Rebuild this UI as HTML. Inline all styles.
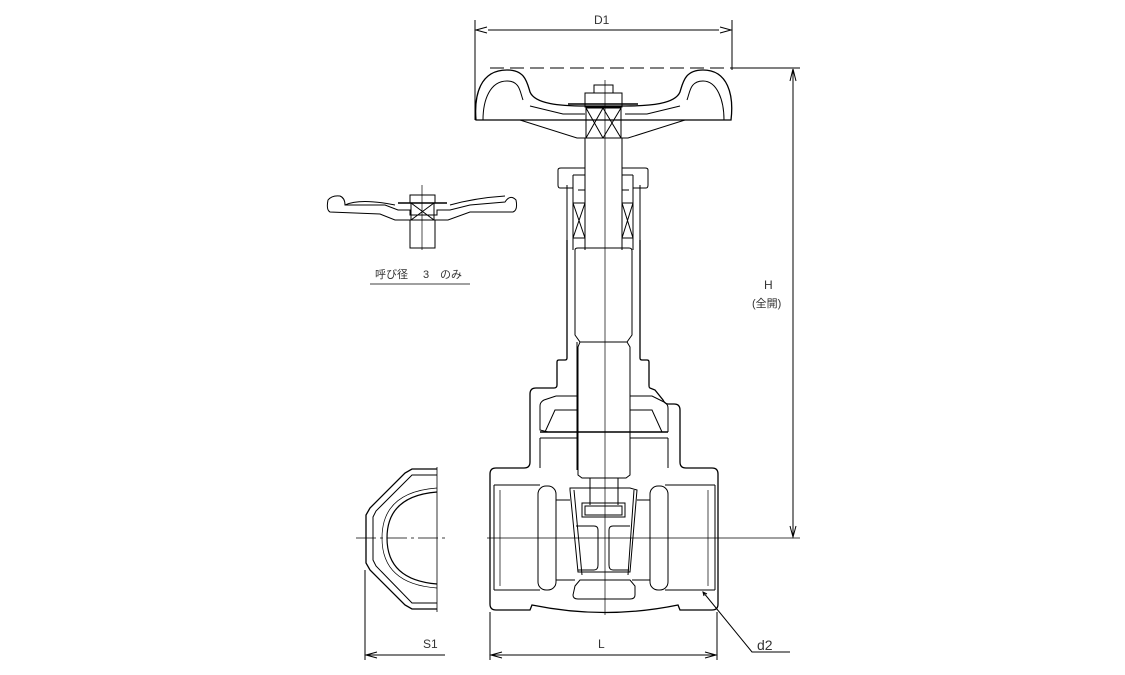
<!DOCTYPE html>
<html><head><meta charset="utf-8"><style>
html,body{margin:0;padding:0;background:#fff;}
svg{display:block}
text{font-family:"Liberation Sans","Noto Sans CJK JP",sans-serif;fill:#333}
</style></head><body>
<svg width="1125" height="675" viewBox="0 0 1125 675" xmlns="http://www.w3.org/2000/svg">
<defs>
<marker id="a" markerWidth="12" markerHeight="6" refX="12" refY="3" orient="auto" markerUnits="userSpaceOnUse"><path d="M0,0 L12,3 L0,6" fill="none" stroke="#000" stroke-width="1"/></marker>
</defs>
<g fill="none" stroke="#000" stroke-width="1">
<!-- D1 dim -->
<line x1="475" y1="20" x2="475" y2="120"/>
<line x1="732" y1="20" x2="732" y2="70"/>
<line x1="488" y1="30" x2="719" y2="30"/>
<path d="M487,27 L476,30 L487,33 M720,27 L731,30 L720,33"/>
<line x1="490" y1="68" x2="732" y2="68" stroke-dasharray="14,6"/>
<line x1="732" y1="68" x2="800" y2="68"/>
<!-- H dim -->
<line x1="793" y1="70" x2="793" y2="537"/>
<path d="M790,81 L793,69 L796,81 M790,526 L793,537 L796,526"/>
<!-- centerlines -->
<line x1="487" y1="538" x2="800" y2="538" stroke-width="0.8"/>
<line x1="356" y1="538" x2="445" y2="538" stroke-dasharray="20,4,3,4" stroke-width="0.8"/>
<line x1="605" y1="80" x2="605" y2="615" stroke-width="0.7"/>
<line x1="422" y1="185" x2="422" y2="250" stroke-width="0.7"/>
<!-- Handwheel -->
<path d="M476,120 C474,95 480,70 507,70 C525,70 527,82 530,92 C535,104 560,106 585,106 L625,106 C650,106 675,104 680,92 C683,82 685,70 703,70 C728,70 734,95 731,120 Z" stroke-width="1.3"/>
<path d="M483,120 C483,100 490,81 507,81 C520,81 520,92 523,100"/>
<path d="M724,120 C724,100 717,81 703,81 C690,81 690,92 687,100"/>
<path d="M520,120 L577,138 L628,138 L685,120"/>
<path d="M530,106 L563,114 L585,114 M625,114 L647,114 L680,106"/>
<rect x="586" y="108" width="35" height="30"/>
<path d="M586,108 L603,138 M603,108 L586,138 M603,108 L621,138 M621,108 L603,138"/>
<rect x="585" y="93" width="37" height="14"/>
<rect x="594" y="85" width="19" height="8"/>
<line x1="568" y1="104" x2="638" y2="104" stroke-width="1.5"/>
<!-- stem upper -->
<line x1="585" y1="138" x2="585" y2="250"/>
<line x1="622" y1="138" x2="622" y2="250"/>
<!-- gland nut -->
<path d="M573,188 L560,188 Q558,188 558,185 L558,170 Q558,168 561,168 L585,168"/>
<path d="M633,188 L646,188 Q648,188 648,185 L648,170 Q648,168 645,168 L622,168"/>
<path d="M573,175 L585,175 L585,190 L578,190 M633,175 L622,175 L622,190 L629,190"/>
<path d="M567,185 L567,240 M640,185 L640,240"/>
<path d="M573,175 L573,250 M633,175 L633,250"/>
<rect x="573" y="203" width="12" height="35"/><path d="M573,203 L585,238 M585,203 L573,238"/>
<rect x="622" y="203" width="11" height="35"/><path d="M622,203 L633,238 M633,203 L622,238"/>
<!-- bonnet -->
<path d="M567,240 L567,358 Q567,360 565,360 L559,360 Q557,360 557,362 L557,385 Q557,388 554,388 L536,388 Q530,388 530,394 L530,462 Q530,468 524,468 L496,468 Q490,468 490,474 L490,604 Q490,610 496,610 L530,610 L532,605 Q605,620 678,605 L680,610 L712,610 Q718,610 718,604 L718,474 Q718,468 712,468 L686,468 Q680,468 680,462 L680,410 Q680,404 674,404 L668,404 Q665,404 663,400 L655,390 L650,388 Q649,388 649,385 L649,362 Q649,360 647,360 L642,360 Q640,360 640,358 L640,240" stroke-width="1.3"/>
<path d="M575,250 Q575,248 578,248 L629,248 Q632,248 632,251 L632,335 L627,342 L580,342 L575,335 Z"/>
<path d="M580,342 L578,347 L578,475 L582,478 L626,478 L630,475 L630,347 L627,342"/>
<line x1="577" y1="342" x2="577" y2="470"/>
<!-- bonnet flange interior -->
<path d="M548,432 L540,430 L540,406 Q540,402 544,400 L556,396 M556,396 L578,396"/>
<path d="M545,432 L555,410 L578,410 M630,410 L652,410 L662,432"/>
<path d="M630,396 L652,396 L664,402 Q668,404 668,408 L668,432"/>
<line x1="540" y1="432" x2="668" y2="432" stroke-width="1.5"/>
<line x1="540" y1="438" x2="578" y2="438"/><line x1="630" y1="438" x2="668" y2="438"/>
<path d="M540,438 L540,468 M668,438 L668,468"/>
<!-- stem lower & wedge -->
<path d="M590,478 L590,505 M618,478 L618,505"/>
<rect x="582" y="503" width="43" height="14"/>
<rect x="585" y="506" width="37" height="9"/>
<path d="M570,488 L630,488 L637,490 L630,572 L578,572 L570,490 Z"/>
<path d="M574,490 L582,575 M634,490 L628,575"/>
<path d="M576,526 L594,526 Q598,526 598,530 L598,565 Q598,570 594,570 L578,570"/>
<path d="M630,526 L613,526 Q609,526 609,530 L609,565 Q609,570 613,570 L629,570"/>
<path d="M575,586 L580,580 L630,580 L635,586 L635,595 Q635,599 630,599 L578,599 Q573,599 573,595 Z"/>
<!-- ports -->
<path d="M494,485 L540,485 M494,590 L540,590 M494,485 L494,590"/>
<path d="M715,485 L665,485 M715,590 L665,590 M715,485 L715,590"/>
<rect x="538" y="486" width="18" height="104" rx="8"/>
<rect x="650" y="486" width="18" height="104" rx="8"/>
<path d="M556,500 L570,500 M556,580 L575,580 M650,500 L637,500 M650,580 L632,580"/>
<path d="M500,490 L500,586 M708,490 L708,586" stroke-width="0.7"/>
<!-- side view -->
<path d="M437,467 L437,612" stroke-width="0.8"/>
<path d="M437,469 L412,469 L405,473 L370,508 L366,515 L366,563 L370,570 L405,605 L412,609 L437,609" stroke-width="1.3"/>
<path d="M437,475 L412,475 L376,511 L373,517 L373,560 L376,566 L412,603 L437,603"/>
<path d="M437,488 Q382,492 382,538 Q382,584 437,588" stroke-width="0.7"/>
<path d="M437,492 Q387,496 387,538 Q387,580 437,584" stroke-width="1.2"/>
<!-- small handwheel -->
<path d="M330,212 Q326,210 328,200 Q332,195 340,196 Q345,198 345,205 L385,205 L398,210 L410,210 L410,215 L437,215 L437,210 L450,210 L470,205 L505,202 Q510,194 516,200 Q518,210 513,212 L470,212 L448,220 L436,220 L410,220 L395,220 L380,214 Z"/>
<path d="M345,205 Q360,198 395,205 M450,205 Q475,198 505,196"/>
<rect x="411" y="203" width="23" height="17"/>
<path d="M411,203 L434,220 M434,203 L411,220"/>
<rect x="410" y="195" width="25" height="8"/>
<line x1="398" y1="203" x2="447" y2="203" stroke-width="1.4"/>
<rect x="410" y="220" width="25" height="28"/>
<line x1="370" y1="284" x2="470" y2="284" stroke-width="0.8"/>
<!-- S1, L dims -->
<line x1="365" y1="570" x2="365" y2="660"/>
<line x1="490" y1="612" x2="490" y2="660"/>
<line x1="717" y1="612" x2="717" y2="660"/>
<line x1="366" y1="655" x2="445" y2="655"/>
<path d="M377,652 L366,655 L377,658"/>
<line x1="491" y1="655" x2="716" y2="655"/>
<path d="M502,652 L491,655 L502,658 M705,652 L716,655 L705,658"/>
<!-- d2 leader -->
<path d="M703,592 L752,652 L790,652"/>
<path d="M704,596 L703,592 L707,594" />
</g>
<g font-size="12">
<text x="594" y="24">D1</text>
<text x="764" y="289">H</text>
<text x="752" y="307" font-size="11">(全開)</text>
<text x="375" y="278" font-size="11">呼び径</text>
<text x="423" y="278" font-size="11">3</text>
<text x="440" y="278" font-size="11">のみ</text>
<text x="423" y="648">S1</text>
<text x="598" y="648">L</text>
<text x="757" y="650" font-size="14">d2</text>
</g>
</svg>
</body></html>
